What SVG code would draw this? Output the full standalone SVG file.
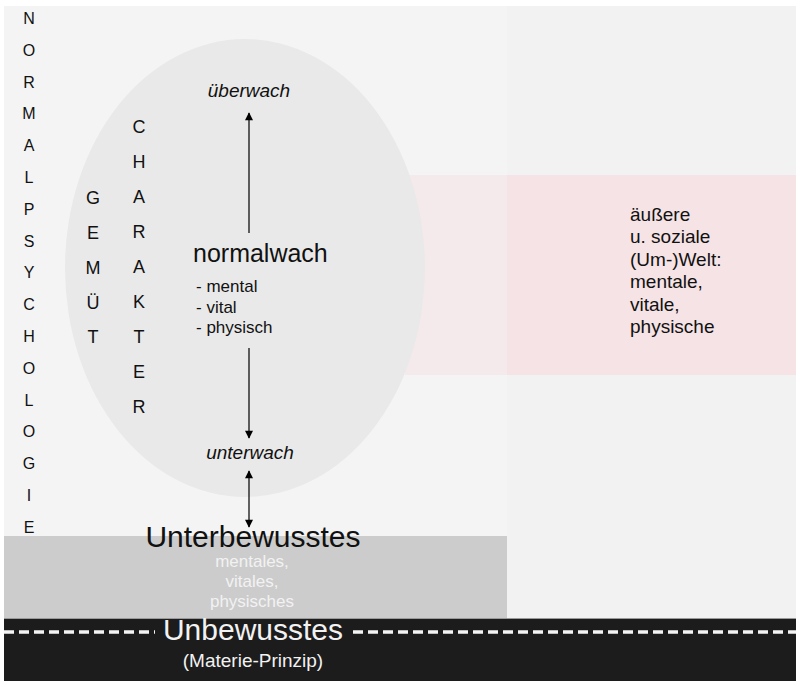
<svg xmlns="http://www.w3.org/2000/svg" width="796" height="681" viewBox="0 0 796 681">
<defs>
<marker id="ah" viewBox="0 0 10 10" refX="9" refY="5" markerWidth="11" markerHeight="8" markerUnits="userSpaceOnUse" orient="auto-start-reverse"><path d="M0,0 L10,5 L0,10 z" fill="#000"/></marker>
<style>
text{font-family:"Liberation Sans",Arial,sans-serif;fill:#111}
.v1{font-size:16px;text-anchor:middle}
.v2{font-size:18px;text-anchor:middle}
.it{font-style:italic;font-size:19px;text-anchor:middle}
.sm{font-size:17px}
.uw{font-size:19px}
.w{fill:#f2f2f2;text-anchor:middle}
.conn{stroke:#111;stroke-width:1.3;fill:none}
</style>
</defs>
<rect width="796" height="681" fill="#ffffff"/>
<g id="panels">
<rect x="4" y="6" width="503" height="614" fill="#f4f4f4"/>
<rect x="507" y="6" width="289" height="614" fill="#f2f2f2"/>
<rect x="405" y="175" width="102" height="200" fill="#f5eaeb"/>
<rect x="507" y="175" width="289" height="200" fill="#f5e3e5"/>
</g>
<g id="bewusstsein">
<ellipse cx="245" cy="268" rx="180" ry="229" fill="#e9e9e9"/>
</g>
<g id="unterbewusstes-band">
<rect x="4" y="536" width="503" height="82" fill="#cccccc"/>
</g>
<g id="unbewusstes-band">
<rect x="4" y="618" width="792" height="63" fill="#1c1c1c"/>
<line x1="4" y1="618.5" x2="796" y2="618.5" stroke="#9a9a9a" stroke-width="1"/>
<line x1="4" y1="632" x2="155" y2="632" stroke="#f4f4f4" stroke-width="3.5" stroke-dasharray="10 5"/>
<line x1="353" y1="632" x2="796" y2="632" stroke="#f4f4f4" stroke-width="3.5" stroke-dasharray="10 5"/>
</g>
<g id="normalpsychologie">
<text class="v1" x="29" y="24">N</text>
<text class="v1" x="29" y="56">O</text>
<text class="v1" x="29" y="88">R</text>
<text class="v1" x="29" y="119">M</text>
<text class="v1" x="29" y="151">A</text>
<text class="v1" x="29" y="183">L</text>
<text class="v1" x="29" y="215">P</text>
<text class="v1" x="29" y="247">S</text>
<text class="v1" x="29" y="278">Y</text>
<text class="v1" x="29" y="310">C</text>
<text class="v1" x="29" y="342">H</text>
<text class="v1" x="29" y="374">O</text>
<text class="v1" x="29" y="406">L</text>
<text class="v1" x="29" y="437">O</text>
<text class="v1" x="29" y="469">G</text>
<text class="v1" x="29" y="501">I</text>
<text class="v1" x="29" y="533">E</text>
</g>
<g id="charakter">
<text class="v2" x="139" y="133">C</text>
<text class="v2" x="139" y="168">H</text>
<text class="v2" x="139" y="203">A</text>
<text class="v2" x="139" y="238">R</text>
<text class="v2" x="139" y="273">A</text>
<text class="v2" x="139" y="308">K</text>
<text class="v2" x="139" y="343">T</text>
<text class="v2" x="139" y="378">E</text>
<text class="v2" x="139" y="413">R</text>
</g>
<g id="gemuet">
<text class="v2" x="93" y="204">G</text>
<text class="v2" x="93" y="239">E</text>
<text class="v2" x="93" y="274">M</text>
<text class="v2" x="93" y="309">Ü</text>
<text class="v2" x="93" y="343">T</text>
</g>
<g id="ueberwach"><text class="it" x="249" y="97">überwach</text></g>
<g id="normalwach">
<text x="193" y="262" style="font-size:25px">normalwach</text>
<text class="sm" x="196" y="292">- mental</text>
<text class="sm" x="196" y="313">- vital</text>
<text class="sm" x="196" y="333">- physisch</text>
</g>
<g id="unterwach"><text class="it" x="250" y="459">unterwach</text></g>
<g id="unterbewusstes">
<text x="253" y="547" style="font-size:30px;text-anchor:middle">Unterbewusstes</text>
<text class="sm w" x="252" y="567">mentales,</text>
<text class="sm w" x="252" y="587">vitales,</text>
<text class="sm w" x="252" y="607">physisches</text>
</g>
<g id="unbewusstes">
<text class="w" x="253" y="640" style="font-size:30px">Unbewusstes</text>
<text class="w" x="253" y="667" style="font-size:19px">(Materie-Prinzip)</text>
</g>
<g id="umwelt">
<text class="uw" x="630" y="221">äußere</text>
<text class="uw" x="630" y="243">u. soziale</text>
<text class="uw" x="630" y="266">(Um-)Welt:</text>
<text class="uw" x="630" y="288">mentale,</text>
<text class="uw" x="630" y="311">vitale,</text>
<text class="uw" x="630" y="333">physische</text>
</g>
<g id="connectors">
<line class="conn" x1="249" y1="233" x2="249" y2="113" marker-end="url(#ah)"/>
<line class="conn" x1="249" y1="348" x2="249" y2="438" marker-end="url(#ah)"/>
<line class="conn" x1="249" y1="471" x2="249" y2="527" marker-start="url(#ah)" marker-end="url(#ah)"/>
</g>
</svg>
